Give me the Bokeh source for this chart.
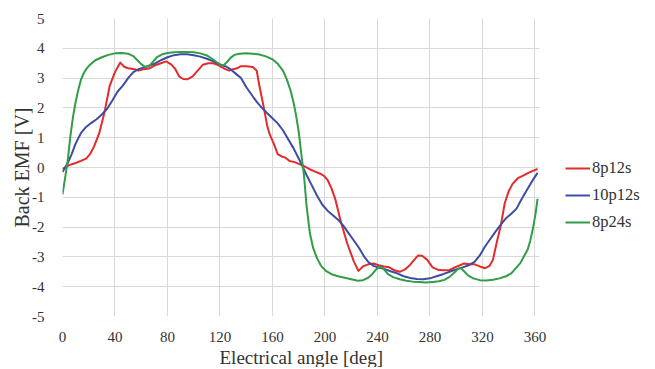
import math
from bokeh.plotting import figure
from bokeh.models import Range1d, FixedTicker, Legend, LegendItem, BoxAnnotation, Title
from bokeh.embed import file_html
from bokeh.resources import INLINE

# ---- data ----
x_ticks = [0, 40, 80, 120, 160, 200, 240, 280, 320, 360]
y_ticks = [-5, -4, -3, -2, -1, 0, 1, 2, 3, 4, 5]
series_names = ["8p12s", "10p12s", "8p24s"]

red_deg = [0, 5, 10, 14, 18, 21, 24, 28, 32, 36, 40, 44, 47, 50, 55, 58, 62, 66, 70, 75,
           79, 83, 86, 89, 92, 95, 99, 103, 107, 111, 115, 118, 121, 124, 127, 130, 133, 136, 140, 145,
           148, 150, 153, 156, 158, 161, 164, 167, 170, 173, 177, 180, 184, 188, 192, 196, 199, 202, 205, 208,
           212, 217, 222, 225.5, 229, 233, 237, 241, 245, 249, 253, 257, 261, 265, 268, 271, 274, 278, 282, 286,
           290, 295, 299, 303, 306, 310, 314, 318, 322, 325.5, 328, 331, 334, 337, 340, 343, 347, 351, 355, 358,
           362]
red_v = [-0.05, 0.08, 0.15, 0.22, 0.3, 0.45, 0.7, 1.15, 1.85, 2.75, 3.2, 3.52, 3.38, 3.33, 3.3, 3.25, 3.3, 3.32, 3.42, 3.5,
         3.56, 3.45, 3.3, 3.05, 2.97, 2.96, 3.05, 3.25, 3.45, 3.5, 3.5, 3.45, 3.38, 3.3, 3.25, 3.3, 3.33, 3.4, 3.4, 3.37,
         3.25, 2.75, 2.1, 1.4, 1.1, 0.8, 0.45, 0.37, 0.33, 0.22, 0.18, 0.12, 0.05, -0.05, -0.13, -0.2, -0.27, -0.42, -0.7, -1.08,
         -1.8, -2.55, -3.15, -3.47, -3.32, -3.25, -3.22, -3.28, -3.32, -3.35, -3.45, -3.5, -3.42, -3.26, -3.1, -2.95, -2.96, -3.1, -3.35, -3.43,
         -3.45, -3.44, -3.35, -3.28, -3.22, -3.25, -3.25, -3.32, -3.38, -3.3, -3.1, -2.5, -1.95, -1.2, -0.8, -0.55, -0.36, -0.27, -0.18, -0.12,
         -0.05]

blue_deg = [0, 2, 4, 7, 10, 14, 18, 22, 26, 30, 34, 38, 42, 46, 50, 54, 58, 62, 66, 70,
            75, 80, 85, 90, 95, 100, 105, 110, 115, 120, 125, 128, 132, 136, 140, 144, 148, 152, 156, 160,
            164, 168, 172, 176, 180, 183, 186, 190, 194, 198, 202, 206, 210, 214, 218, 222, 226, 230, 233, 237,
            241, 245, 250, 255, 260, 265, 270, 275, 280, 285, 290, 295, 300, 305, 310, 314, 318, 322, 326, 330,
            334, 338, 342, 346, 350, 354, 358, 362]
blue_v = [-0.15, 0.0, 0.15, 0.45, 0.8, 1.15, 1.36, 1.5, 1.62, 1.78, 1.97, 2.25, 2.55, 2.75, 3.0, 3.2, 3.3, 3.36, 3.42, 3.48,
          3.6, 3.7, 3.77, 3.8, 3.8, 3.77, 3.72, 3.65, 3.56, 3.46, 3.38, 3.3, 3.15, 3.0, 2.7, 2.45, 2.2, 2.0, 1.82, 1.65,
          1.48, 1.25, 0.95, 0.65, 0.3, 0.03, -0.25, -0.6, -0.95, -1.25, -1.45, -1.6, -1.75, -1.95, -2.2, -2.45, -2.7, -3.0, -3.17, -3.3,
          -3.36, -3.4, -3.48, -3.55, -3.65, -3.71, -3.74, -3.75, -3.72, -3.65, -3.58, -3.5, -3.42, -3.35, -3.27, -3.17, -2.95, -2.65, -2.4, -2.15,
          -1.92, -1.7, -1.55, -1.38, -1.05, -0.75, -0.45, -0.18]

green_deg = [0, 2, 4, 6, 8, 10, 12, 14, 16, 18, 21, 25, 30, 35, 40, 45, 50, 54, 57, 60,
             63, 66, 69, 72, 76, 80, 85, 90, 95, 100, 105, 110, 114, 117, 120, 122.5, 125, 128, 131, 135,
             140, 145, 150, 155, 160, 164, 168, 171, 174, 176, 178, 180, 182, 184, 186, 188.5, 191, 194, 197, 201,
             205, 210, 215, 220, 225, 229, 233, 236, 239, 242, 245, 248, 252, 257, 262, 267, 272, 277, 282, 287,
             291, 295, 298, 301, 303.5, 306, 309, 313, 318, 323, 328, 333, 338, 342, 346, 349, 352, 354.5, 356.5, 358.5,
             360.5, 362]
green_v = [-0.9, -0.35, 0.25, 1.05, 1.7, 2.2, 2.6, 2.94, 3.15, 3.3, 3.45, 3.6, 3.7, 3.78, 3.83, 3.84, 3.82, 3.74, 3.6, 3.47,
           3.37, 3.4, 3.55, 3.7, 3.8, 3.84, 3.87, 3.88, 3.88, 3.87, 3.83, 3.76, 3.65, 3.55, 3.46, 3.42, 3.52, 3.68, 3.78, 3.82,
           3.83, 3.82, 3.79, 3.73, 3.63, 3.48, 3.25, 2.95, 2.55, 2.2, 1.75, 1.2, 0.45, -0.25, -1.3, -2.2, -2.7, -3.05, -3.3, -3.48,
           -3.58, -3.65, -3.7, -3.75, -3.8, -3.78, -3.7, -3.58, -3.42, -3.32, -3.42, -3.58, -3.68, -3.75, -3.8, -3.83, -3.84, -3.86, -3.84, -3.82,
           -3.77, -3.67, -3.55, -3.42, -3.37, -3.48, -3.62, -3.72, -3.78, -3.79, -3.77, -3.72, -3.65, -3.55, -3.35, -3.2, -2.95, -2.75, -2.45, -2.05,
           -1.55, -1.05]

assert len(red_deg) == len(red_v)
assert len(blue_deg) == len(blue_v)
assert len(green_deg) == len(green_v)

colors = ["#e52a2a", "#3e4da3", "#2f9e44"]
FONT = "Liberation Serif"
TXT = "#333333"

# plotting area in data units; the frame is widened to the right to hold the legend
X_MAX = 363.5
CHART_W = 477
PX_PER_DEG = CHART_W / X_MAX
FRAME_W = 593
x_end = FRAME_W / PX_PER_DEG

p = figure(frame_width=FRAME_W, frame_height=298, output_backend="svg", toolbar_location=None,
           x_range=Range1d(0, x_end), y_range=Range1d(-5, 5),
           min_border_left=62, min_border_right=0, min_border_top=18, min_border_bottom=10)
p.outline_line_color = None
p.background_fill_color = "white"

for ax in (p.xaxis[0], p.yaxis[0]):
    ax.axis_line_color = None
    ax.major_tick_line_color = None
    ax.minor_tick_line_color = None
    ax.major_label_text_font = FONT
    ax.major_label_text_font_size = "15px"
    ax.major_label_text_color = TXT
    ax.axis_label_text_font = FONT
    ax.axis_label_text_font_size = "20px"
    ax.axis_label_text_font_style = "normal"
    ax.axis_label_text_color = TXT
p.xaxis[0].ticker = FixedTicker(ticks=x_ticks)
p.yaxis[0].ticker = FixedTicker(ticks=y_ticks)
p.yaxis[0].major_label_overrides = {t: str(t) for t in y_ticks}
p.xaxis[0].major_label_standoff = 9
p.yaxis[0].major_label_standoff = 12
p.yaxis[0].axis_label = "Back EMF [V]"
p.yaxis[0].axis_label_standoff = -4

# x-axis title, centred under the chart area (not under the legend zone)
x_title_text = "Electrical angle [deg]"
p.add_layout(Title(text=x_title_text, align="left", offset=157, standoff=0,
                   text_font=FONT, text_font_size="19px", text_font_style="normal",
                   text_color=TXT), "below")

p.grid.grid_line_color = "#d9d9d9"
p.grid.grid_line_width = 1
p.xgrid.ticker = FixedTicker(ticks=x_ticks)
p.ygrid.ticker = FixedTicker(ticks=y_ticks)

r1 = p.line(red_deg, red_v, line_width=2, color=colors[0], line_join="round")
r2 = p.line(blue_deg, blue_v, line_width=2, color=colors[1], line_join="round")
r3 = p.line(green_deg, green_v, line_width=2, color=colors[2], line_join="round")

# white area right of the chart (legend zone)
p.add_layout(BoxAnnotation(left=X_MAX, fill_color="white", fill_alpha=1, line_color=None))

legend = Legend(items=[LegendItem(label=series_names[0], renderers=[r1]),
                       LegendItem(label=series_names[1], renderers=[r2]),
                       LegendItem(label=series_names[2], renderers=[r3])],
                location=(503, 84), border_line_color=None, background_fill_alpha=0,
                padding=0, margin=0, spacing=7, label_height=20, glyph_height=20,
                glyph_width=25, label_standoff=2,
                label_text_font=FONT, label_text_font_size="16.5px", label_text_color=TXT)
p.add_layout(legend, "center")

open("out.html", "w").write(file_html(p, INLINE))
